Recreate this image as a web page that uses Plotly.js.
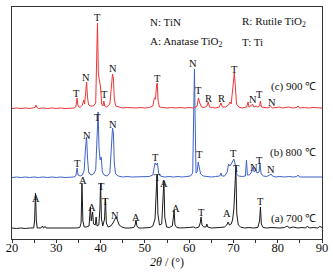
<!DOCTYPE html>
<html><head><meta charset="utf-8">
<script src="https://cdn.plot.ly/plotly-3.0.1.min.js"></script>
<style>html,body{margin:0;padding:0;background:#fff}#chart{width:333px;height:276px}</style>
</head><body><div id="chart"></div>
<script>
// ---- data (2θ in degrees, intensity in arbitrary units above each pattern's baseline) ----
const theta700 = [20,21,22,23,24,24.9,25.1,25.3,25.5,25.7,26.5,26.9,27.1,27.5,27.7,28.5,29.5,30.5,31.5,32.5,33.5,34.5,35.3,35.6,35.8,36.0,36.3,36.8,37.4,37.7,37.9,38.2,38.4,38.8,39.0,39.2,39.6,39.85,40.0,40.2,40.5,40.9,41.1,41.3,41.7,42.3,42.8,43.2,43.5,43.8,44.2,44.8,45.5,46.5,47.5,47.8,48.0,48.2,48.6,49.5,50.5,51.2,51.8,52.3,52.6,52.75,52.95,53.3,53.8,54.1,54.3,54.5,54.9,55.5,56.2,56.45,56.6,56.8,57.2,58,59,60,61,61.5,62.2,62.5,62.7,62.9,63.3,63.8,64.0,64.2,65,66,67,68,68.5,68.8,69.1,69.5,69.8,70.1,70.35,70.55,70.75,71.1,71.6,72.5,73.5,74.5,75.5,75.9,76.1,76.3,76.7,77.5,78.5,79.5,80.5,81.5,82.2,82.6,83.5,84.5,85.5,86.3,86.7,87.1,88,89,89.5,90];
const int700 = [1,0.5,1,0.5,1,1,8,36,8,1,1,3,1,2.5,1,1,0.5,1,0.5,1,1,1,1.5,6,46,8,2,2,3,22,8,17,5,4,12,3,4,20,46,10,3,10,31,6,2,3,6,10,12,9,4,2,1,1,1.5,4,9,3,1,1,1,1.5,3,10,40,54,15,4,5,30,48,12,2,1.5,3,12,19,4,1.5,1,1,1.5,2,1,2,6,12,4,2,2,5,2,1,1,1.5,2,4,7,4,5,9,20,50,62,15,4,2,1,1.5,1,1.5,8,22,5,1.5,1,1.5,1,1,1.5,3,1,2,1,1.5,1,3,1,1.5,1,2.5,1.5];

const theta800 = [20,21,22,23,24,25,26,27,28,29,30,31,32,33,34,34.4,34.7,34.9,35.4,35.9,36.3,36.6,36.85,37.05,37.3,37.8,38.4,38.9,39.2,39.45,39.65,39.9,40.15,40.4,40.8,41.5,42.1,42.4,42.7,42.9,43.1,43.4,44,45,46,47,48,49,50,51,51.8,52.1,52.3,52.6,52.85,53.1,53.5,54.5,55.5,56.5,57.5,58.5,59.5,60.3,60.8,61.0,61.2,61.35,61.55,61.8,62.05,62.3,62.6,63.2,64,65,66,66.9,67.2,67.4,68,68.6,68.9,69.2,69.5,69.8,70.1,70.4,70.7,71.2,72,72.7,72.95,73.15,73.6,74.1,74.4,74.7,75.0,75.3,75.8,76.0,76.25,76.8,77.5,78.2,78.5,78.8,79.5,80.5,81.5,82.5,83.5,84.3,84.6,84.9,86,87,88,89,90];
const int800 = [0.5,1,0.5,1,0.5,1,0.5,1,0.5,1,0.5,1,0.5,1,1,2,10,3,2,3,8,30,41,20,6,3,4,8,40,66,30,18,21,6,3,2,5,25,50,45,15,4,2,1,1.5,1,1,1.5,1,1.5,3,12,15,13,15,5,2,1,1.5,1,1.5,1,1.5,2,5,60,109,60,5,6,16,10,4,2,1.5,1,1.5,2,5,2,2,6,14,12,14,16,19,14,4,2,1.5,2,18,3,3,6,11,6,8,5,6,15,4,2,1.5,3,4,2,1,1.5,1,1.5,1,1.5,3,1,1,1.5,1,1.5,1];

const theta900 = [20,21,22,23,24,25,25.2,25.4,25.6,26,27,28,29,30,31,32,33,34,34.4,34.7,34.9,35.4,35.9,36.2,36.4,36.7,36.85,37.05,37.3,37.8,38.4,38.9,39.15,39.3,39.5,39.75,40.0,40.25,40.55,40.75,40.95,41.4,42.1,42.4,42.7,42.9,43.1,43.4,44,45,46,47,48,49,50,51,51.8,52.15,52.4,52.65,52.8,53.0,53.3,54,55,56,57,58,59,60,61,61.8,62.1,62.4,62.8,63.4,64.0,64.3,64.6,65.2,66,66.8,67.2,67.5,68.2,68.9,69.2,69.5,69.9,70.2,70.45,70.7,71.2,72,73,73.3,73.5,73.9,74.3,74.6,75.1,75.5,75.9,76.1,76.3,77,77.8,78.4,78.8,79.6,80.4,81,82,82.5,83.2,84.3,84.6,84.9,86,87,88,89,90];
const int900 = [0.5,1,0.5,1,0.5,1,1.5,4,1.5,0.5,1,0.5,1,0.5,1,0.5,1,1,2,11,3,1.5,4,9,5,22,27,12,4,3,3,6,50,86,35,30,22,5,3,8,3,2,5,20,35,30,10,3,2,1,1.5,1,1,1.5,1,1.5,3,11,10,24,26,8,2,1.5,1,1.5,1,1.5,1,1.5,1,3,11,6,2,1.5,3,7,2,1.5,1,2,6,2,2,4,7,5,20,36,22,5,2,1,2,7,2,3,5,2,3,2,3,8,2,1.5,1,2.5,1,1.5,2,1,1.5,2,1,1.5,3,1,1.5,1,1.5,1,1];

const seriesNames = ["(a) 700 ℃", "(b) 800 ℃", "(c) 900 ℃"];
const legendLines = ["N: TiN", "R: Rutile TiO<sub>2</sub>", "A: Anatase TiO<sub>2</sub>", "T: Ti"];

// peak phase labels: letter, 2θ, label height (plot units)
const lab700 = ["A","A","A","T","T","N","A","T","A","A","T","A","T","T"];
const lab700x = [25.42,36.09,37.99,40.25,41.22,43.25,47.99,52.8,54.31,56.95,62.82,68.47,70.72,76.14];
const lab700y = [41,59,32,53,38,24,22,62,56,31,27,26,71,38];
const lab800 = ["T","N","T","N","T","N","T","T","N","T","N"];
const lab800x = [34.74,37.0,39.35,42.87,52.5,60.93,62.44,70.11,74.7,75.98,78.47];
const lab800y = [76,104,122,115,82,176,85,86,72,79,70];
const lab900 = ["T","N","T","T","N","T","T","R","R","T","N","T","N"];
const lab900x = [34.67,36.7,39.35,40.84,42.87,52.8,62.21,64.47,67.4,70.27,74.33,75.98,78.62];
const lab900y = [146,162,222,145,171,161,149,141,141,170,140,145,137];

// ---- presentation ----
const offsets = [10, 61, 130];
const colors = ["#1a1a1a", "#3f63c8", "#ee3535"];
const serif = "Liberation Serif, Times New Roman, serif";

const xs = [theta700, theta800, theta900];
const ys = [int700, int800, int900];
const traces = xs.map((x, i) => ({
  x: x, y: ys[i].map(v => v + offsets[i]), type: "scatter", mode: "lines",
  line: {color: colors[i], width: 1}, hoverinfo: "skip", showlegend: false
}));

const ann = [];
[[lab700, lab700x, lab700y], [lab800, lab800x, lab800y], [lab900, lab900x, lab900y]].forEach(([t, x, y]) => {
  t.forEach((s, k) => ann.push({x: x[k], y: y[k], xref: "x", yref: "y", text: s, showarrow: false,
    font: {family: serif, size: 10.5, color: "#111"}, xanchor: "center", yanchor: "middle"}));
});
const legPos = [[0.439, 0.935], [0.735, 0.935], [0.439, 0.849], [0.735, 0.849]];
legendLines.forEach((s, k) => ann.push({x: legPos[k][0], y: legPos[k][1], xref: "paper", yref: "paper", text: s,
  showarrow: false, xanchor: "left", yanchor: "middle", font: {family: serif, size: 11, color: "#111"}}));
const serPos = [0.0905, 0.371, 0.659];
seriesNames.forEach((s, k) => ann.push({x: 0.987, y: serPos[k], xref: "paper", yref: "paper", text: s,
  showarrow: false, xanchor: "right", yanchor: "middle", font: {family: serif, size: 11, color: "#111"}}));

const tickVals = [20,30,40,50,60,70,80,90];
const layout = {
  width: 333, height: 276,
  margin: {l: 12, r: 11, t: 7, b: 37},
  paper_bgcolor: "#fff", plot_bgcolor: "#fff",
  xaxis: {range: [20, 90], tickvals: tickVals, ticktext: tickVals.map(String), ticks: "outside", ticklen: 3,
    tickcolor: "#333", showgrid: false, zeroline: false, showline: true, linecolor: "#333", linewidth: 1, mirror: true,
    tickfont: {family: serif, size: 12.5, color: "#111"}, ticklabelstandoff: -6,
    minor: {dtick: 5, tick0: 20, ticks: "outside", ticklen: 3, tickcolor: "#333", showgrid: false},
    title: {text: "<i>2θ</i> / (°)", font: {family: serif, size: 12, color: "#111"}, standoff: 0}},
  yaxis: {range: [0, 232], showticklabels: false, ticks: "", showgrid: false, zeroline: false,
    showline: true, linecolor: "#333", linewidth: 1, mirror: true},
  annotations: ann, showlegend: false
};
Plotly.newPlot("chart", traces, layout, {displayModeBar: false, staticPlot: true});
</script></body></html>
